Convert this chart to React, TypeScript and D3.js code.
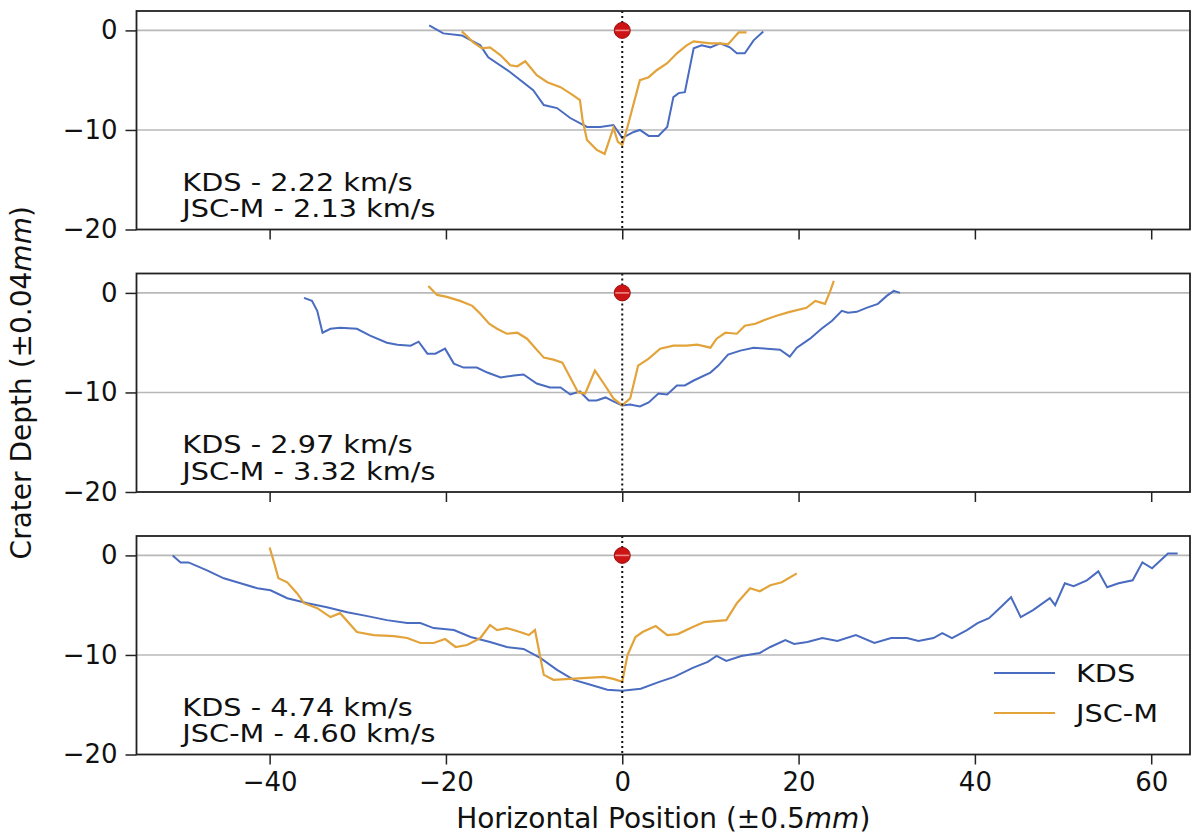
import { useEffect, useRef } from 'react'
import * as d3 from 'd3'

type Pt = [number, number]

// panel 1
const KDS_222: Pt[] = [
  [-21.9, 0.5], [-20.3, -0.3], [-18.2, -0.5], [-16.1, -1.5], [-15.2, -2.7], [-12.7, -4.2],
  [-10.1, -6.0], [-8.9, -7.5], [-7.4, -7.8], [-5.9, -8.8], [-4.0, -9.7], [-2.5, -9.7],
  [-1.0, -9.5], [0.0, -10.8], [1.3, -10.2], [2.0, -10.0], [3.0, -10.6], [4.1, -10.6],
  [5.1, -9.7], [5.8, -6.7], [6.4, -6.3], [7.1, -6.2], [8.1, -1.8], [9.0, -1.5],
  [10.0, -1.7], [11.1, -1.3], [12.2, -1.7], [13.0, -2.3], [13.9, -2.3], [14.9, -1.0], [16.0, -0.1],
]
const JSC_213: Pt[] = [
  [-18.2, -0.1], [-16.9, -1.2], [-15.9, -1.8], [-15.0, -1.7], [-13.8, -2.5], [-12.7, -3.5],
  [-11.9, -3.6], [-11.0, -3.1], [-9.7, -4.5], [-8.5, -5.2], [-7.0, -5.7], [-5.6, -6.5],
  [-4.8, -7.0], [-4.5, -9.0], [-4.0, -11.0], [-2.9, -12.0], [-2.0, -12.4], [-1.0, -9.8],
  [-0.5, -11.2], [0.0, -11.5], [0.5, -10.0], [1.1, -8.0], [1.7, -6.0], [2.0, -5.0],
  [3.0, -4.7], [3.9, -4.0], [5.1, -3.3], [6.2, -2.3], [7.3, -1.5], [8.1, -1.1],
  [10.0, -1.3], [11.1, -1.3], [12.0, -1.4], [12.6, -0.8], [13.2, -0.2], [14.1, -0.2],
]

// panel 2
const KDS_297: Pt[] = [
  [-36.1, -0.5], [-35.2, -0.8], [-34.6, -1.8], [-34.0, -4.0], [-33.1, -3.6], [-32.0, -3.5],
  [-30.1, -3.6], [-28.6, -4.3], [-26.7, -5.0], [-25.5, -5.2], [-24.0, -5.3], [-23.1, -4.9],
  [-22.1, -6.1], [-21.2, -6.1], [-20.1, -5.6], [-19.1, -7.1], [-18.0, -7.5], [-16.5, -7.5],
  [-15.3, -8.0], [-13.8, -8.5], [-12.3, -8.3], [-11.2, -8.2], [-9.7, -9.1], [-8.2, -9.5],
  [-7.0, -9.5], [-5.9, -10.2], [-4.8, -9.9], [-3.8, -10.8], [-2.9, -10.8], [-1.9, -10.5],
  [-1.0, -10.9], [0.0, -11.3], [0.9, -11.2], [2.0, -11.4], [3.0, -11.0], [4.1, -10.1],
  [5.1, -10.2], [6.2, -9.3], [7.1, -9.3], [8.1, -8.8], [10.0, -8.0], [10.9, -7.3],
  [12.0, -6.2], [13.4, -5.8], [14.9, -5.5], [16.4, -5.6], [17.9, -5.7], [19.0, -6.4],
  [19.8, -5.5], [21.3, -4.6], [22.6, -3.6], [23.8, -2.8], [24.9, -1.8], [25.6, -2.0],
  [26.6, -1.9], [27.7, -1.5], [29.0, -1.1], [30.0, -0.3], [30.8, 0.2], [31.5, 0.0],
]
const JSC_332: Pt[] = [
  [-22.0, 0.7], [-21.0, -0.2], [-19.9, -0.4], [-18.4, -0.8], [-17.0, -1.3], [-16.1, -2.1],
  [-15.1, -3.1], [-14.2, -3.6], [-13.1, -4.1], [-11.9, -4.0], [-10.8, -4.6], [-9.9, -5.5],
  [-8.9, -6.5], [-7.8, -6.7], [-6.8, -7.0], [-5.9, -8.5], [-5.0, -10.0], [-4.2, -10.1],
  [-3.1, -7.8], [-2.1, -9.1], [-1.0, -10.6], [0.0, -11.3], [0.9, -10.6], [1.8, -7.3],
  [3.0, -6.6], [4.3, -5.6], [5.8, -5.3], [7.3, -5.3], [8.5, -5.2], [10.0, -5.5],
  [10.7, -4.6], [11.7, -4.0], [13.0, -4.1], [13.9, -3.3], [15.1, -3.1], [16.2, -2.7],
  [17.5, -2.3], [19.0, -1.9], [20.9, -1.5], [21.9, -0.8], [23.0, -1.1], [23.6, 0.2], [24.0, 1.2],
]

// panel 3
const KDS_474: Pt[] = [
  [-51.0, 0.0], [-50.1, -0.7], [-49.2, -0.7], [-47.1, -1.5], [-45.2, -2.3], [-43.3, -2.8],
  [-41.4, -3.3], [-39.9, -3.5], [-38.0, -4.3], [-35.7, -4.8], [-33.5, -5.2], [-31.2, -5.7],
  [-28.9, -6.1], [-26.7, -6.5], [-24.4, -6.8], [-22.9, -6.8], [-21.4, -7.3], [-19.1, -7.5],
  [-17.2, -8.2], [-15.0, -8.7], [-13.1, -9.2], [-11.2, -9.4], [-9.3, -10.3], [-7.4, -11.5],
  [-5.5, -12.5], [-3.6, -13.0], [-1.7, -13.5], [0.0, -13.6], [2.1, -13.4], [4.2, -12.7],
  [5.9, -12.2], [8.0, -11.3], [9.7, -10.7], [10.7, -10.1], [11.8, -10.6], [13.5, -10.1],
  [15.6, -9.8], [16.8, -9.2], [18.5, -8.5], [19.5, -8.9], [21.0, -8.7], [22.7, -8.3],
  [24.4, -8.6], [26.5, -8.0], [28.6, -8.8], [30.5, -8.3], [32.3, -8.3], [33.6, -8.6],
  [35.3, -8.3], [36.3, -7.8], [37.4, -8.3], [39.1, -7.5], [40.3, -6.8], [41.6, -6.3],
  [42.8, -5.3], [44.1, -4.2], [45.2, -6.2], [46.6, -5.5], [48.5, -4.3], [49.1, -5.0],
  [50.2, -2.8], [51.2, -3.1], [52.7, -2.5], [54.0, -1.6], [55.0, -3.2], [56.3, -2.8],
  [57.9, -2.5], [59.0, -0.7], [60.1, -1.3], [61.9, 0.2], [63.0, 0.2],
]
const JSC_460: Pt[] = [
  [-40.0, 0.8], [-39.5, -0.7], [-39.0, -2.3], [-38.0, -2.7], [-36.9, -3.8], [-36.1, -4.8],
  [-34.6, -5.3], [-33.1, -6.2], [-32.0, -5.8], [-30.1, -7.7], [-28.2, -8.0], [-25.9, -8.1],
  [-24.4, -8.3], [-22.9, -8.8], [-21.4, -8.8], [-20.1, -8.4], [-18.9, -9.2], [-17.6, -9.0],
  [-16.1, -8.3], [-15.0, -7.0], [-14.2, -7.5], [-13.1, -7.3], [-11.6, -7.7], [-10.6, -8.0],
  [-9.9, -7.5], [-9.3, -10.2], [-8.9, -12.0], [-7.8, -12.5], [-5.9, -12.4], [-4.0, -12.3],
  [-2.1, -12.2], [-1.0, -12.4], [0.0, -12.7], [0.6, -10.0], [1.5, -8.2], [2.3, -7.7],
  [3.8, -7.1], [5.1, -8.0], [6.3, -7.9], [8.0, -7.2], [9.3, -6.7], [11.8, -6.5],
  [13.0, -4.8], [14.5, -3.3], [15.6, -3.6], [16.8, -3.0], [18.1, -2.7], [19.8, -1.8],
]

const KDS_SERIES = [KDS_222, KDS_297, KDS_474]
const JSC_SERIES = [JSC_213, JSC_332, JSC_460]
const KDS_LABELS = ['KDS - 2.22 km/s', 'KDS - 2.97 km/s', 'KDS - 4.74 km/s']
const JSC_LABELS = ['JSC-M - 2.13 km/s', 'JSC-M - 3.32 km/s', 'JSC-M - 4.60 km/s']
const LEGEND = ['KDS', 'JSC-M']
const X_TICKS = [-40, -20, 0, 20, 40, 60]
const Y_TICKS = [0, -10, -20]
const GRID_Y = [0, -10]

const BLUE = '#4a6cc0'
const ORANGE = '#e2a33a'
const FONT = 'DejaVu Sans, sans-serif'

export default function App() {
  const svgRef = useRef<SVGSVGElement>(null)

  useEffect(() => {
    document.body.style.margin = '0'
    const svg = d3.select(svgRef.current)
    svg.selectAll('*').remove()

    const W = 1195
    const H = 838
    const left = 136.5
    const right = 1190
    const top0 = 11
    const step = 262.5
    const ph = 218.5

    svg.attr('width', W).attr('height', H).style('background', '#fff')

    const x = d3.scaleLinear().domain([-55.1, 64.4]).range([left, right])

    KDS_SERIES.forEach((kds, i) => {
      const top = top0 + i * step
      const y = d3.scaleLinear().domain([-20, 1.95]).range([top + ph, top])
      const g = svg.append('g')

      // clip for curves
      const clipId = `clip-${i}`
      svg.append('defs').append('clipPath').attr('id', clipId)
        .append('rect').attr('x', left).attr('y', top).attr('width', right - left).attr('height', ph)

      // grid
      g.selectAll('line.grid')
        .data(GRID_Y)
        .enter()
        .append('line')
        .attr('x1', left)
        .attr('x2', right)
        .attr('y1', d => y(d))
        .attr('y2', d => y(d))
        .attr('stroke', '#b8b8b8')
        .attr('stroke-width', 1.6)

      const line = d3.line<Pt>().x(d => x(d[0])).y(d => y(d[1]))

      const curves = g.append('g').attr('clip-path', `url(#${clipId})`)
      curves.append('path')
        .datum(kds)
        .attr('d', line)
        .attr('fill', 'none')
        .attr('stroke', BLUE)
        .attr('stroke-width', 2)
      curves.append('path')
        .datum(JSC_SERIES[i])
        .attr('d', line)
        .attr('fill', 'none')
        .attr('stroke', ORANGE)
        .attr('stroke-width', 2.2)

      // centre line
      g.append('line')
        .attr('x1', x(0))
        .attr('x2', x(0))
        .attr('y1', top)
        .attr('y2', top + ph)
        .attr('stroke', '#111')
        .attr('stroke-width', 2)
        .attr('stroke-dasharray', '2,3')

      // impact point
      g.append('circle')
        .attr('cx', x(0))
        .attr('cy', y(0))
        .attr('r', 8)
        .attr('fill', '#cc1414')
        .attr('stroke', '#a00a0a')
        .attr('stroke-width', 1)
      g.append('line')
        .attr('x1', x(0) - 7)
        .attr('x2', x(0) + 7)
        .attr('y1', y(0))
        .attr('y2', y(0))
        .attr('stroke', '#e88')
        .attr('stroke-width', 1.6)

      // labels inside panel
      const lab = g.append('g')
        .attr('transform', `translate(${x(-49.9)},${top + ph - 39}) scale(1.15,1)`)
        .attr('font-family', FONT)
        .attr('font-size', 25)
        .attr('fill', '#111')
      lab.append('text').attr('x', 0).attr('y', 0).text(KDS_LABELS[i])
      lab.append('text').attr('x', 0).attr('y', 27).text(JSC_LABELS[i])

      // axes
      const yAxis = d3.axisLeft(y).tickValues(Y_TICKS).tickSize(11).tickPadding(8)
        .tickFormat(d3.format('d'))
      const ya = g.append('g').attr('transform', `translate(${left},0)`).call(yAxis)
      ya.select('.domain').remove()
      ya.selectAll('line').attr('stroke', '#222').attr('stroke-width', 1.5)
      ya.selectAll('text').attr('font-family', FONT).attr('font-size', 26).attr('fill', '#111')

      const xAxis = d3.axisBottom(x).tickValues(X_TICKS).tickSize(10).tickPadding(8)
        .tickFormat(i === 2 ? d3.format('d') : () => '')
      const xa = g.append('g').attr('transform', `translate(0,${top + ph})`).call(xAxis)
      xa.select('.domain').remove()
      xa.selectAll('line').attr('stroke', '#222').attr('stroke-width', 1.5)
      xa.selectAll('text').attr('font-family', FONT).attr('font-size', 26).attr('fill', '#111')

      // frame
      g.append('rect')
        .attr('x', left)
        .attr('y', top)
        .attr('width', right - left)
        .attr('height', ph)
        .attr('fill', 'none')
        .attr('stroke', '#222')
        .attr('stroke-width', 1.8)

      // legend in last panel
      if (i === 2) {
        const colors = [BLUE, ORANGE]
        LEGEND.forEach((name, k) => {
          const ly = 673 + k * 40
          g.append('line')
            .attr('x1', 994)
            .attr('x2', 1055)
            .attr('y1', ly)
            .attr('y2', ly)
            .attr('stroke', colors[k])
            .attr('stroke-width', 2.2)
          g.append('text')
            .attr('transform', `translate(1076,${ly + 9}) scale(1.15,1)`)
            .attr('font-family', FONT)
            .attr('font-size', 25)
            .attr('fill', '#111')
            .text(name)
        })
      }
    })

    // axis titles
    const xl = svg.append('text')
      .attr('x', (left + right) / 2)
      .attr('y', 828)
      .attr('text-anchor', 'middle')
      .attr('font-family', FONT)
      .attr('font-size', 28)
      .attr('fill', '#111')
    xl.append('tspan').text('Horizontal Position (±0.5')
    xl.append('tspan').attr('font-style', 'italic').text('mm')
    xl.append('tspan').text(')')

    const yl = svg.append('text')
      .attr('transform', `translate(31,${top0 + step + ph / 2}) rotate(-90)`)
      .attr('text-anchor', 'middle')
      .attr('font-family', FONT)
      .attr('font-size', 28)
      .attr('fill', '#111')
    yl.append('tspan').text('Crater Depth (±0.04')
    yl.append('tspan').attr('font-style', 'italic').text('mm')
    yl.append('tspan').text(')')
  }, [])

  return <svg ref={svgRef}></svg>
}
